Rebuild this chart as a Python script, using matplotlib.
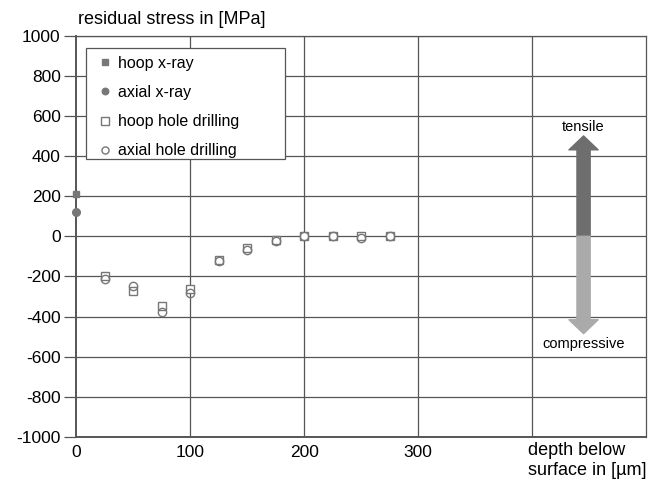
import matplotlib
matplotlib.use("Agg")
import matplotlib.pyplot as plt
from matplotlib.patches import Rectangle

plt.rcParams['font.family'] = ['Liberation Sans', 'DejaVu Sans']
plt.rcParams['axes.unicode_minus'] = False

# depth in µm, stress in MPa
xray_depth = [0]
hoop_xray = [210]
axial_xray = [120]

drill_depth = [25, 50, 75, 100, 125, 150, 175, 200, 225, 250, 275]
hoop_drill = [-200, -273, -345, -265, -117, -58, -20, 0, 0, 0, 0]
axial_drill = [-215, -248, -378, -285, -125, -67, -22, 0, 0, -8, 0]

x_ticks = [0, 100, 200, 300]
y_ticks = list(range(-1000, 1001, 200))

fig = plt.figure(figsize=(6.57, 4.86), dpi=100)
ax = fig.add_axes([0.1157, 0.1008, 0.868, 0.826])

grid_col = '#555555'
mk_col = '#777777'

for gx in [100, 200, 300, 400]:
    ax.axvline(gx, color=grid_col, lw=0.9, zorder=1)
for gy in y_ticks:
    ax.axhline(gy, color=grid_col, lw=0.9, zorder=1)

ax.plot(xray_depth, hoop_xray, 's', color=mk_col, ms=5, label='hoop x-ray', zorder=3, clip_on=False)
ax.plot(xray_depth, axial_xray, 'o', color=mk_col, ms=5.5, label='axial x-ray', zorder=3, clip_on=False)
ax.plot(drill_depth, hoop_drill, 's', mfc='white', mec=mk_col, mew=1, ms=6,
        label='hoop hole drilling', zorder=3)
ax.plot(drill_depth, axial_drill, 'o', mfc='none', mec=mk_col, mew=1, ms=6,
        label='axial hole drilling', zorder=4)

ax.set_xlim(0, 500)
ax.set_ylim(-1000, 1000)
ax.set_xticks(x_ticks)
ax.set_yticks(y_ticks)
ax.tick_params(axis='x', length=0, labelsize=12.5, pad=6)
ax.tick_params(axis='y', length=9, width=0.9, color=grid_col, labelsize=12.5, pad=2)
for sp in ax.spines.values():
    sp.set_color(grid_col)
    sp.set_linewidth(0.9)
ax.spines['left'].set_linewidth(1.4)
ax.spines['bottom'].set_linewidth(1.4)

fig.text(0.118, 0.959, 'residual stress in [MPa]', fontsize=13, va='center', ha='left')
fig.text(0.804, 0.052, 'depth below\nsurface in [µm]', fontsize=13, va='center', ha='left',
         linespacing=1.25)

# legend box is wider than its text, so draw the frame by hand
ax.add_patch(Rectangle((0.0175, 0.693), 0.349, 0.277, transform=ax.transAxes,
                       facecolor='white', edgecolor=grid_col, lw=0.9, zorder=6))
leg = ax.legend(loc='upper left', bbox_to_anchor=(0.025, 0.965), frameon=False,
                fontsize=11.5, handletextpad=0.25, labelspacing=0.88, borderpad=0.4,
                handlelength=1.1, markerscale=0.85, borderaxespad=0)
leg.set_zorder(7)

# tensile / compressive arrow
arrow_x = 445
arrow_style = 'simple,head_length=1.0,head_width=2.1,tail_width=0.95'
ax.annotate('', xy=(arrow_x, 500), xytext=(arrow_x, 0),
            arrowprops=dict(arrowstyle=arrow_style, mutation_scale=10, color='#6e6e6e',
                            shrinkA=0, shrinkB=0), zorder=5)
ax.annotate('', xy=(arrow_x, -485), xytext=(arrow_x, 0),
            arrowprops=dict(arrowstyle=arrow_style, mutation_scale=10, color='#aaaaaa',
                            shrinkA=0, shrinkB=0), zorder=5)
ax.text(arrow_x, 545, 'tensile', ha='center', va='center', fontsize=10.5, zorder=6)
ax.text(arrow_x, -535, 'compressive', ha='center', va='center', fontsize=10.5, zorder=6)

fig.savefig('out.png', dpi=100)
